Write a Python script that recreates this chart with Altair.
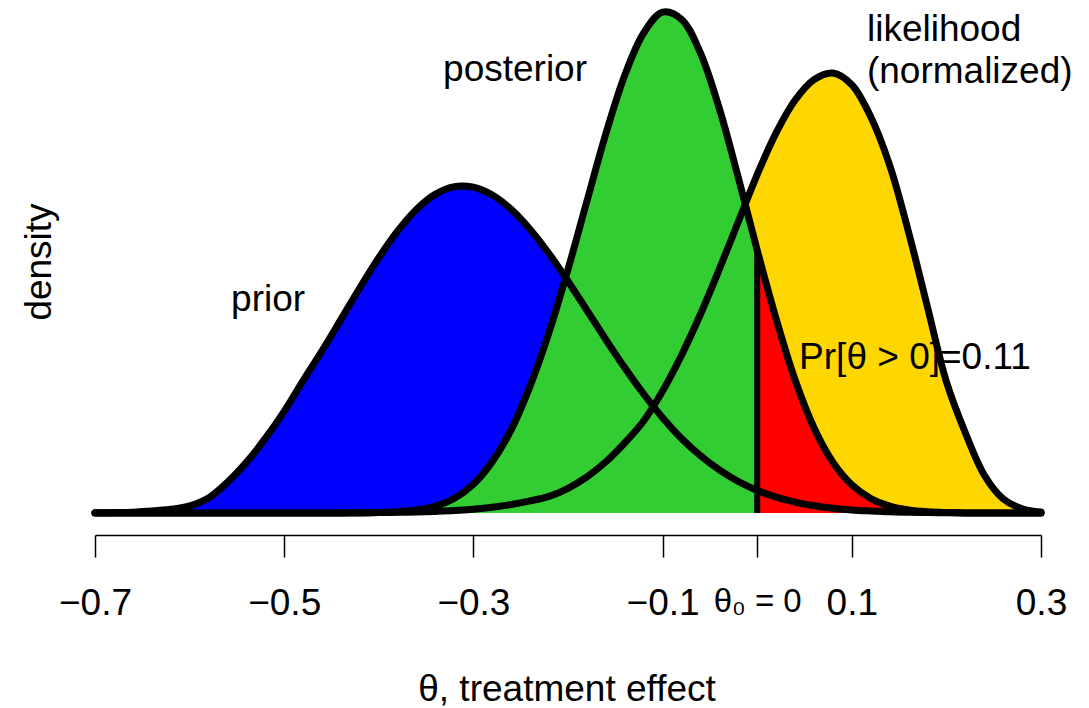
import altair as alt
import pandas as pd

# theta grid (treatment effect)
theta = [-0.70, -0.68, -0.66, -0.64, -0.62, -0.60, -0.58, -0.56, -0.54, -0.52,
         -0.50, -0.48, -0.46, -0.44, -0.42, -0.40, -0.38, -0.36, -0.34, -0.32,
         -0.30, -0.28, -0.26, -0.24, -0.22, -0.20, -0.18, -0.16, -0.14, -0.12,
         -0.10, -0.08, -0.06, -0.04, -0.02, 0.00, 0.02, 0.04, 0.06, 0.08,
         0.10, 0.12, 0.14, 0.16, 0.18, 0.20, 0.22, 0.24, 0.26, 0.28, 0.30]

prior = [0.002, 0.004, 0.008, 0.018, 0.035, 0.066, 0.140, 0.287, 0.473, 0.697,
         0.950, 1.238, 1.516, 1.809, 2.105, 2.386, 2.636, 2.839, 2.980, 3.050,
         3.044, 2.971, 2.837, 2.650, 2.423, 2.166, 1.894, 1.621, 1.357, 1.112,
         0.891, 0.697, 0.536, 0.402, 0.294, 0.211, 0.149, 0.102, 0.068, 0.045,
         0.029, 0.019, 0.011, 0.007, 0.004, 0.002, 0.001, 0.001, 0.000, 0.000, 0.000]

posterior = [0.000, 0.000, 0.000, 0.000, 0.000, 0.000, 0.000, 0.000, 0.000, 0.000,
             0.000, 0.000, 0.000, 0.000, 0.001, 0.004, 0.011, 0.028, 0.065, 0.138,
             0.268, 0.480, 0.779, 1.188, 1.689, 2.277, 2.914, 3.544, 4.091, 4.486,
             4.680, 4.613, 4.299, 3.779, 3.136, 2.457, 1.815, 1.245, 0.797, 0.475,
             0.264, 0.136, 0.064, 0.028, 0.011, 0.004, 0.001, 0.000, 0.000, 0.000, 0.000]

likelihood = [0.000, 0.000, 0.000, 0.000, 0.000, 0.000, 0.000, 0.000, 0.000, 0.000,
              0.000, 0.000, 0.000, 0.001, 0.002, 0.004, 0.006, 0.009, 0.015, 0.023,
              0.036, 0.054, 0.079, 0.113, 0.155, 0.231, 0.337, 0.479, 0.656, 0.860,
              1.139, 1.474, 1.857, 2.279, 2.722, 3.163, 3.552, 3.857, 4.050, 4.112,
              4.002, 3.703, 3.251, 2.625, 1.925, 1.227, 0.750, 0.355, 0.132, 0.040, 0.010]

tick_values = [-0.7, -0.5, -0.3, -0.1, 0.0, 0.1, 0.3]
tick_labels = ["\u22120.7", "\u22120.5", "\u22120.3", "\u22120.1", "\u03b8\u2080 = 0", "0.1", "0.3"]

FONT = "Liberation Sans"
FS = 37

df = pd.DataFrame({"theta": theta, "prior": prior,
                   "posterior": posterior, "likelihood": likelihood})
dummy = pd.DataFrame({"k": [0]})

label_expr = ""
for v, lab in zip(tick_values, tick_labels):
    label_expr += f"abs(datum.value - ({v})) < 1e-9 ? '{lab}' : "
label_expr += "''"

xscale = alt.Scale(domain=[-0.7, 0.3], nice=False, zero=False)
yscale = alt.Scale(domain=[0, 4.794], nice=False, zero=True)
xaxis = alt.Axis(values=tick_values, labelExpr=label_expr, title=None,
                 offset=22, tickSize=22, tickColor="black", tickWidth=1.5,
                 domainColor="black", domainWidth=1.5, grid=False,
                 labelFont=FONT, labelColor="black",
                 labelFontSize={"condition": {"test": "abs(datum.value) < 1e-9", "value": 33}, "value": FS},
                 labelPadding=28, labelFlush=False, labelOverlap=False)

X = alt.X("theta:Q", scale=xscale, axis=xaxis)
INTERP = "catmull-rom"


def Y(field):
    return alt.Y(f"{field}:Q", scale=yscale, axis=None)


def xd(v):
    return alt.X(datum=v, scale=xscale, axis=xaxis)


def yd(v):
    return alt.Y(datum=v, scale=yscale, axis=None)


base = alt.Chart(df)
blue = base.mark_area(color="#0000FF", interpolate=INTERP).encode(x=X, y=Y("prior"))
yellow = base.mark_area(color="#FFD700", interpolate=INTERP).encode(x=X, y=Y("likelihood"))
green = base.transform_filter("datum.theta <= 0").mark_area(
    color="#32CD32", interpolate=INTERP).encode(x=X, y=Y("posterior"))
red = base.transform_filter("datum.theta >= 0").mark_area(
    color="#FF0000", interpolate=INTERP).encode(x=X, y=Y("posterior"))

line_kw = dict(color="black", strokeWidth=7, interpolate=INTERP,
               strokeCap="round", strokeJoin="round")
l_prior = base.mark_line(**line_kw).encode(x=X, y=Y("prior"))
l_post = base.mark_line(**line_kw).encode(x=X, y=Y("posterior"))
l_like = base.mark_line(**line_kw).encode(x=X, y=Y("likelihood"))

post_at_0 = posterior[theta.index(0.0)]
vline = alt.Chart(dummy).mark_rule(color="black", strokeWidth=6).encode(
    x=xd(0.0), y=yd(0.0), y2=alt.Y2(datum=post_at_0))


def label(text, xv, yv, align="center", size=FS):
    return alt.Chart(dummy).mark_text(text=text, font=FONT, fontSize=size, color="black",
                                      align=align, baseline="middle").encode(x=xd(xv), y=yd(yv))


t_prior = label("prior", -0.517, 1.99)
t_post = label("posterior", -0.256, 4.14)
t_like1 = label("likelihood", 0.116, 4.51, align="left")
t_like2 = label("(normalized)", 0.116, 4.12, align="left")
t_pr = label("Pr[\u03b8 > 0]=0.11", 0.0443, 1.45, align="left")

t_dens = alt.Chart(dummy).mark_text(text="density", font=FONT, fontSize=FS, color="black",
                                    angle=270, align="center", baseline="middle").encode(
    x=alt.value(-55), y=alt.value(262))
t_xt = alt.Chart(dummy).mark_text(text="\u03b8, treatment effect", font=FONT, fontSize=FS,
                                  color="black", align="center", baseline="middle").encode(
    x=alt.value(472), y=alt.value(690))

chart = alt.layer(blue, yellow, green, red, l_prior, l_post, l_like, vline,
                  t_prior, t_post, t_like1, t_like2, t_pr, t_dens, t_xt).properties(
    width=946, height=513,
    autosize=alt.AutoSizeParams(type="none"),
    padding={"left": 95, "right": 48, "top": 0, "bottom": 195},
    background="white",
).configure_view(stroke=None)

chart.save("out.html", embed_options={"renderer": "svg", "actions": False})
